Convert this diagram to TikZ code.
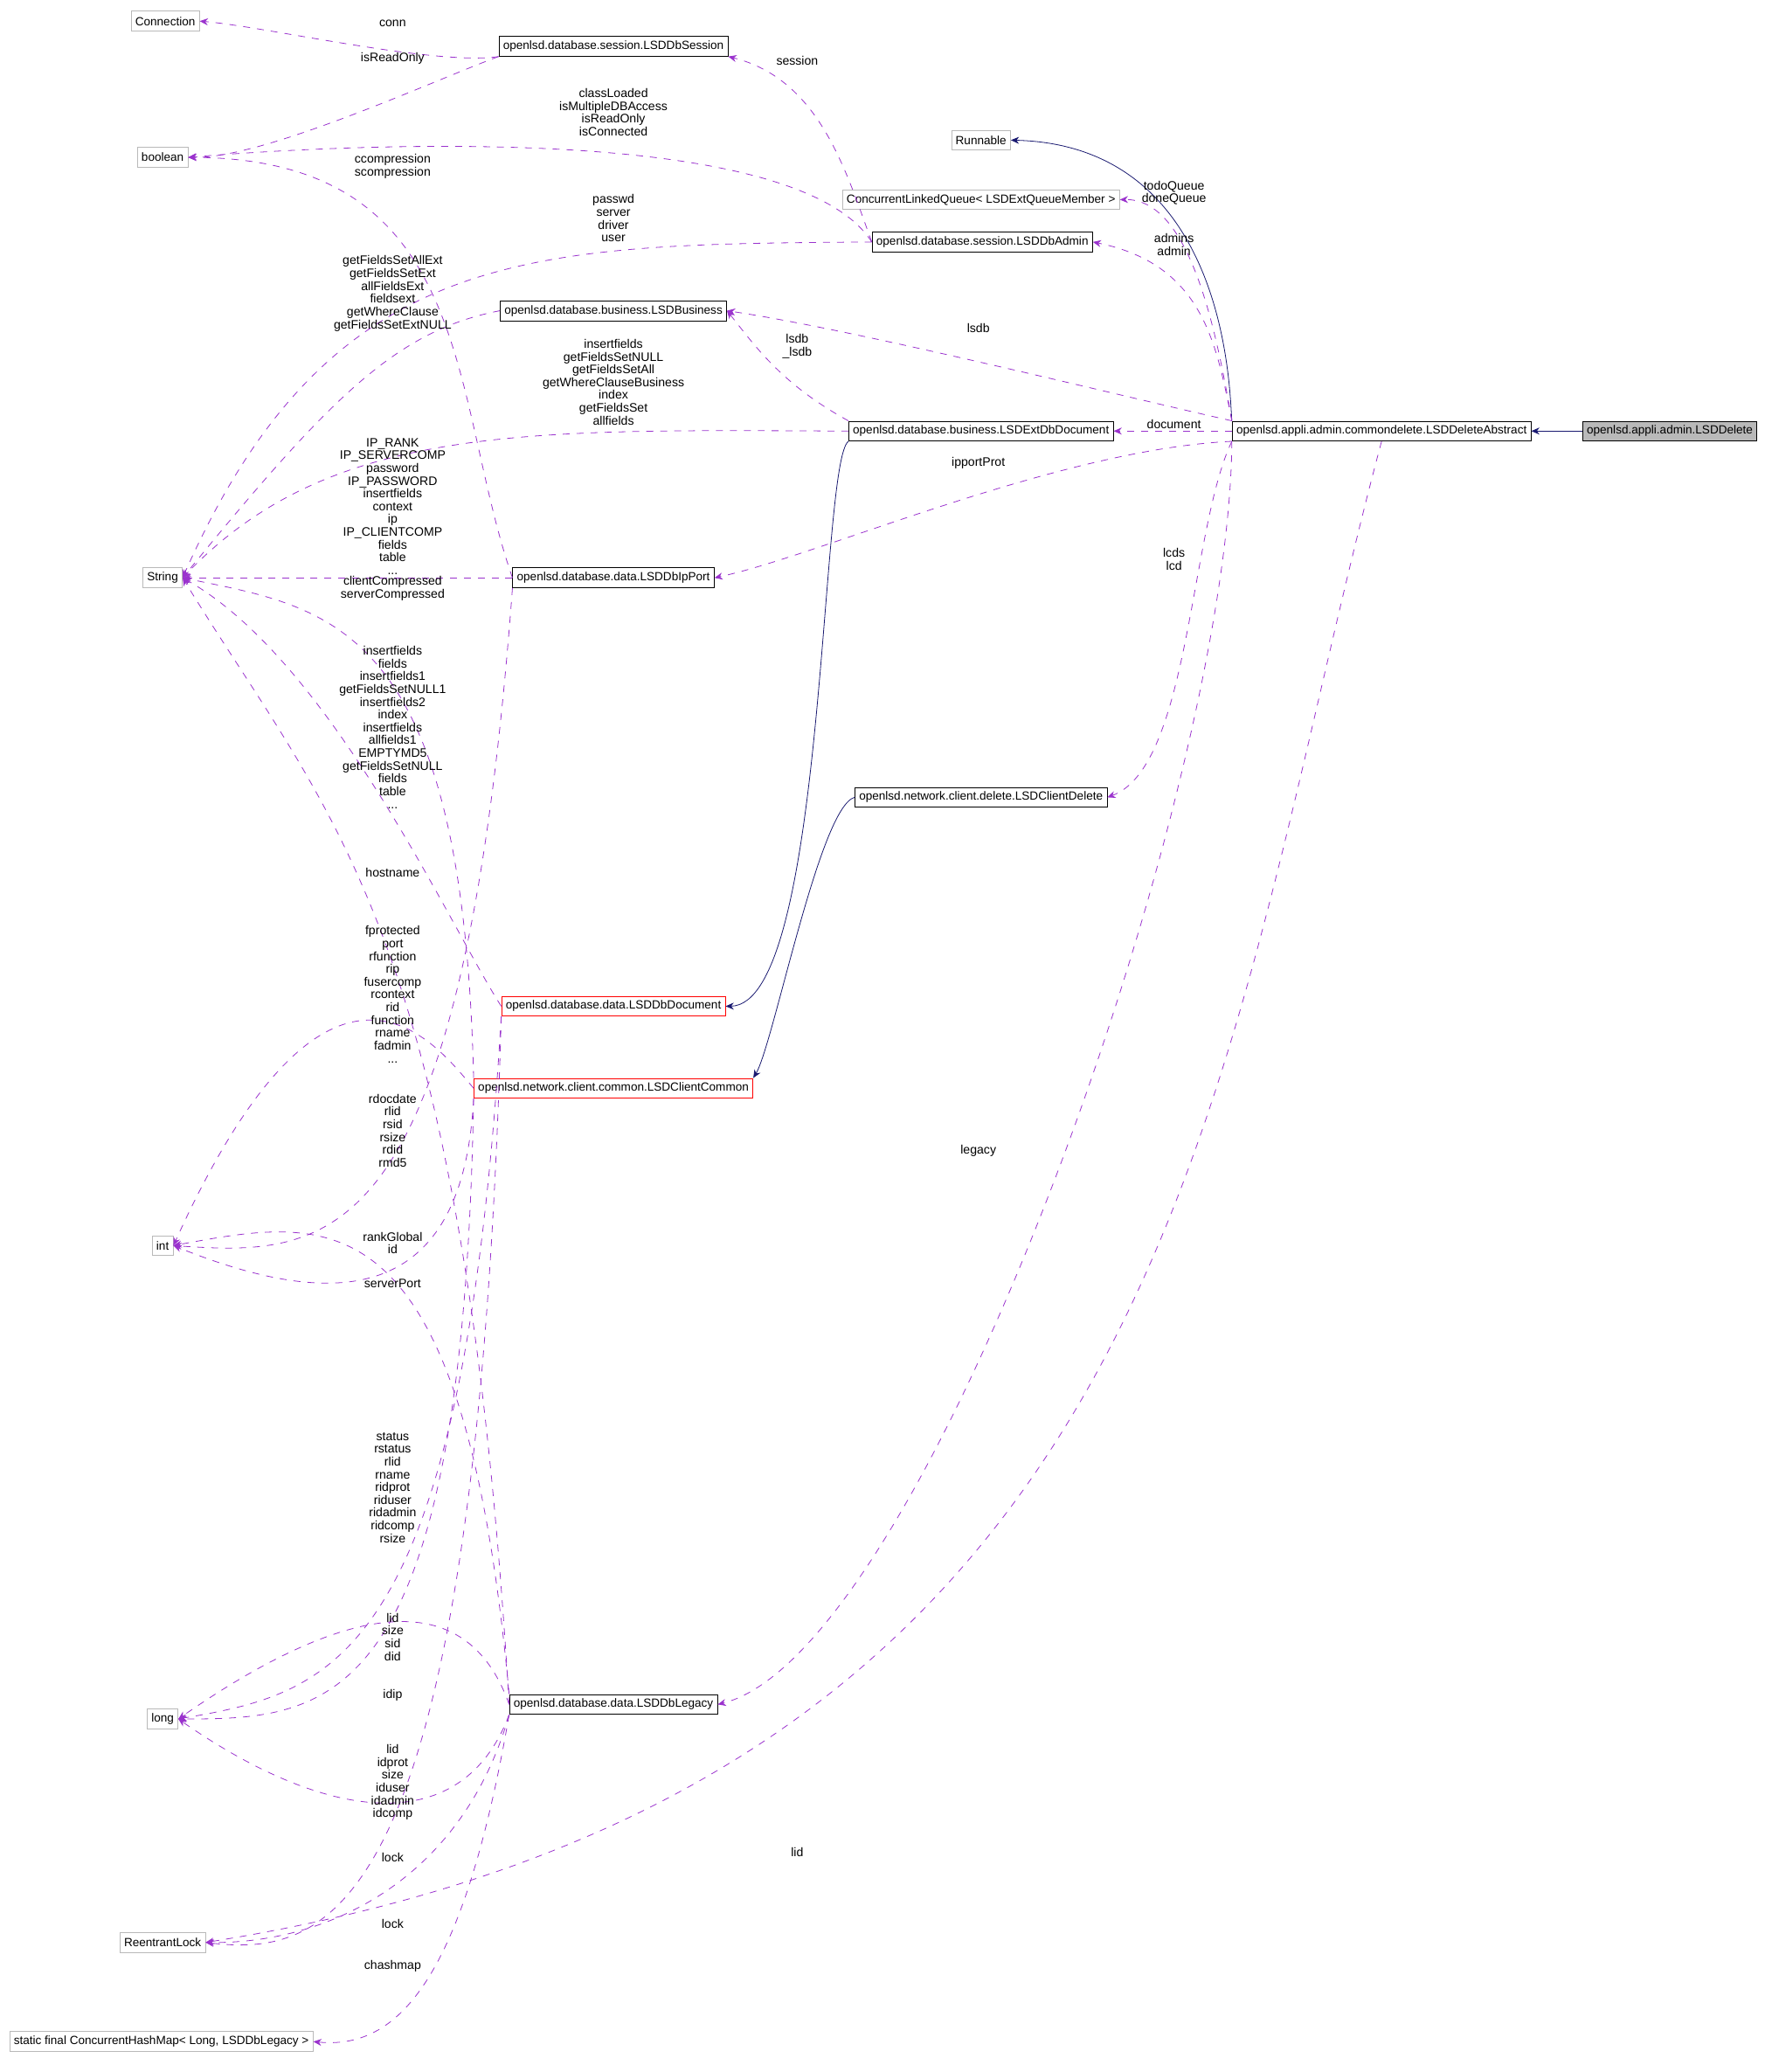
\documentclass[tikz,border=0pt]{standalone}
\usepackage{fontspec}
\setmainfont{Liberation Sans}
\usetikzlibrary{arrows.meta, positioning}
\definecolor{usecol}{HTML}{9A32CD}
\definecolor{inhcol}{HTML}{191970}
\tikzset{
    cls/.style = {rectangle, draw=black, line width=0.3pt, minimum height=0.3cm, inner sep=1.8pt, font=\fontsize{5.1}{6}\selectfont},
    ext/.style = {cls, draw=gray!55},
    red/.style = {cls, draw=red},
    lbl/.style = {align=center, inner sep=0pt, font=\fontsize{5.3}{5.5}\selectfont},
    use/.style = {dashed, usecol, line width=0.3pt, -{Stealth[length=3.5pt,width=3pt]}},
    inh/.style = {inhcol, line width=0.3pt, -{Stealth[length=3.5pt,width=3pt]}}
}
\begin{document}
\begin{tikzpicture}[x=0.02cm, y=-0.02cm]
\useasboundingbox (0,0) rectangle (1335,1567);

% nodes
\node[ext] (conn) at (125,16) {Connection};
\node[cls] (session) at (464,35) {openlsd.database.session.LSDDbSession};
\node[ext] (bool) at (123,119) {boolean};
\node[ext] (runnable) at (742,106) {Runnable};
\node[ext] (queue) at (742,151) {ConcurrentLinkedQueue\textless{} LSDExtQueueMember \textgreater};
\node[cls] (admin) at (743,183) {openlsd.database.session.LSDDbAdmin};
\node[cls] (business) at (464,235) {openlsd.database.business.LSDBusiness};
\node[cls] (extdoc) at (742,326) {openlsd.database.business.LSDExtDbDocument};
\node[cls] (abstract) at (1045,326) {openlsd.appli.admin.commondelete.LSDDeleteAbstract};
\node[cls, fill=gray!55] (delete) at (1263,326) {openlsd.appli.admin.LSDDelete};
\node[ext] (string) at (123,437) {String};
\node[cls] (ipport) at (464,437) {openlsd.database.data.LSDDbIpPort};
\node[cls] (cdelete) at (742,603) {openlsd.network.client.delete.LSDClientDelete};
\node[red] (dbdoc) at (464,761) {openlsd.database.data.LSDDbDocument};
\node[red] (ccommon) at (464,823) {openlsd.network.client.common.LSDClientCommon};
\node[ext] (int) at (123,942) {int};
\node[ext] (long) at (123,1300) {long};
\node[cls] (legacy) at (464,1289) {openlsd.database.data.LSDDbLegacy};
\node[ext] (lock) at (123,1469) {ReentrantLock};
\node[ext] (hashmap) at (122,1544) {static final ConcurrentHashMap\textless{} Long, LSDDbLegacy \textgreater};

% inheritance and usage, solid
\draw[inh] (delete) -- (abstract);
\draw[inh] (abstract.north west) .. controls (930,300) and (930,110) .. (runnable.east);
\draw[inh] (extdoc.south west) .. controls (620,350) and (625,760) .. (dbdoc.east);
\draw[inh] (cdelete.west) .. controls (620,610) and (585,790) .. (ccommon.north east);

% usage, dashed
\draw[use] (session.south west) .. controls (330,50) and (200,20) .. (conn.east);
\draw[use] (session.south west) .. controls (330,60) and (200,120) .. (bool.east);
\draw[use] (admin.west) .. controls (600,90) and (250,110) .. (bool.east);
\draw[use] (ipport.west) .. controls (340,300) and (360,120) .. (bool.east);
\draw[use] (admin.west) .. controls (400,185) and (250,185) .. (string.east);
\draw[use] (business.west) .. controls (300,250) and (250,300) .. (string.east);
\draw[use] (extdoc.west) .. controls (400,325) and (250,320) .. (string.east);
\draw[use] (ipport.west) .. controls (300,437) and (250,437) .. (string.east);
\draw[use] (ccommon.north west) .. controls (350,470) and (250,460) .. (string.east);
\draw[use] (dbdoc.west) .. controls (340,700) and (250,500) .. (string.east);
\draw[use] (legacy.west) .. controls (350,700) and (250,620) .. (string.east);
\draw[use] (ccommon.west) .. controls (330,790) and (250,680) .. (int.east);
\draw[use] (legacy.north west) .. controls (350,900) and (250,920) .. (int.east);
\draw[use] (ipport.south west) .. controls (350,950) and (250,950) .. (int.east);
\draw[use] (ccommon.south west) .. controls (350,990) and (250,990) .. (int.east);
\draw[use] (legacy.west) .. controls (350,1190) and (250,1220) .. (long.east);
\draw[use] (dbdoc.south west) .. controls (350,1260) and (250,1280) .. (long.east);
\draw[use] (ccommon.south west) .. controls (350,1295) and (250,1300) .. (long.east);
\draw[use] (legacy.south west) .. controls (350,1390) and (250,1380) .. (long.east);
\draw[use] (legacy.south west) .. controls (350,1420) and (250,1470) .. (lock.east);
\draw[use] (dbdoc.south west) .. controls (360,1450) and (250,1480) .. (lock.east);
\draw[use] (legacy.south west) .. controls (350,1500) and (300,1550) .. (hashmap.east);
\draw[use] (admin.west) .. controls (640,130) and (620,60) .. (session.south east);
\draw[use] (extdoc.north west) .. controls (590,290) and (570,260) .. (business.east);
\draw[use] (abstract.north west) .. controls (920,250) and (900,150) .. (queue.east);
\draw[use] (abstract.north west) .. controls (920,260) and (910,200) .. (admin.east);
\draw[use] (abstract.north west) .. controls (850,300) and (650,250) .. (business.east);
\draw[use] (abstract.west) -- (extdoc.east);
\draw[use] (abstract.south west) .. controls (800,340) and (620,420) .. (ipport.east);
\draw[use] (abstract.south west) .. controls (900,400) and (900,580) .. (cdelete.east);
\draw[use] (abstract.south west) .. controls (930,600) and (700,1250) .. (legacy.east);
\draw[use] (abstract.south) .. controls (920,800) and (900,1350) .. (lock.east);

% labels
\node[lbl] (lconn) at (297,18) {conn};
\node[lbl] (lro) at (297,44) {isReadOnly};
\node[lbl] (ladminbool) at (464,85) {classLoaded\\isMultipleDBAccess\\isReadOnly\\isConnected};
\node[lbl] (lcomp) at (297,126) {ccompression\\scompression};
\node[lbl] (ladminstr) at (464,165) {passwd\\server\\driver\\user};
\node[lbl] (lbusstr) at (297,222) {getFieldsSetAllExt\\getFieldsSetExt\\allFieldsExt\\fieldsext\\getWhereClause\\getFieldsSetExtNULL};
\node[lbl] (lextstr) at (464,289) {insertfields\\getFieldsSetNULL\\getFieldsSetAll\\getWhereClauseBusiness\\index\\getFieldsSet\\allfields};
\node[lbl] (lipstr) at (297,383) {IP\_RANK\\IP\_SERVERCOMP\\password\\IP\_PASSWORD\\insertfields\\context\\ip\\IP\_CLIENTCOMP\\fields\\table\\...};
\node[lbl] (lccstr) at (297,445) {clientCompressed\\serverCompressed};
\node[lbl] (ldocstr) at (297,550) {insertfields\\fields\\insertfields1\\getFieldsSetNULL1\\insertfields2\\index\\insertfields\\allfields1\\EMPTYMD5\\getFieldsSetNULL\\fields\\table\\...};
\node[lbl] (lhost) at (297,660) {hostname};
\node[lbl] (lccint) at (297,752) {fprotected\\port\\rfunction\\rip\\fusercomp\\rcontext\\rid\\function\\rname\\fadmin\\...};
\node[lbl] (lleint) at (297,855) {rdocdate\\rlid\\rsid\\rsize\\rdid\\rmd5};
\node[lbl] (lipint) at (297,940) {rankGlobal\\id};
\node[lbl] (lport) at (297,971) {serverPort};
\node[lbl] (lstatus) at (297,1125) {status\\rstatus\\rlid\\rname\\ridprot\\riduser\\ridadmin\\ridcomp\\rsize};
\node[lbl] (ldoclong) at (297,1238) {lid\\size\\sid\\did};
\node[lbl] (lidip) at (297,1282) {idip};
\node[lbl] (lleglong) at (297,1348) {lid\\idprot\\size\\iduser\\idadmin\\idcomp};
\node[lbl] (llock1) at (297,1405) {lock};
\node[lbl] (llock2) at (297,1455) {lock};
\node[lbl] (lhash) at (297,1487) {chashmap};
\node[lbl] (lsess) at (603,46) {session};
\node[lbl] (lqueue) at (888,146) {todoQueue\\doneQueue};
\node[lbl] (ladmins) at (888,185) {admins\\admin};
\node[lbl] (llsdb) at (740,248) {lsdb};
\node[lbl] (llsdb2) at (603,262) {lsdb\\\_lsdb};
\node[lbl] (ldoc) at (888,321) {document};
\node[lbl] (lipp) at (740,350) {ipportProt};
\node[lbl] (llcd) at (888,423) {lcds\\lcd};
\node[lbl] (llegacy) at (740,870) {legacy};
\node[lbl] (llid) at (603,1401) {lid};
\end{tikzpicture}
\end{document}
